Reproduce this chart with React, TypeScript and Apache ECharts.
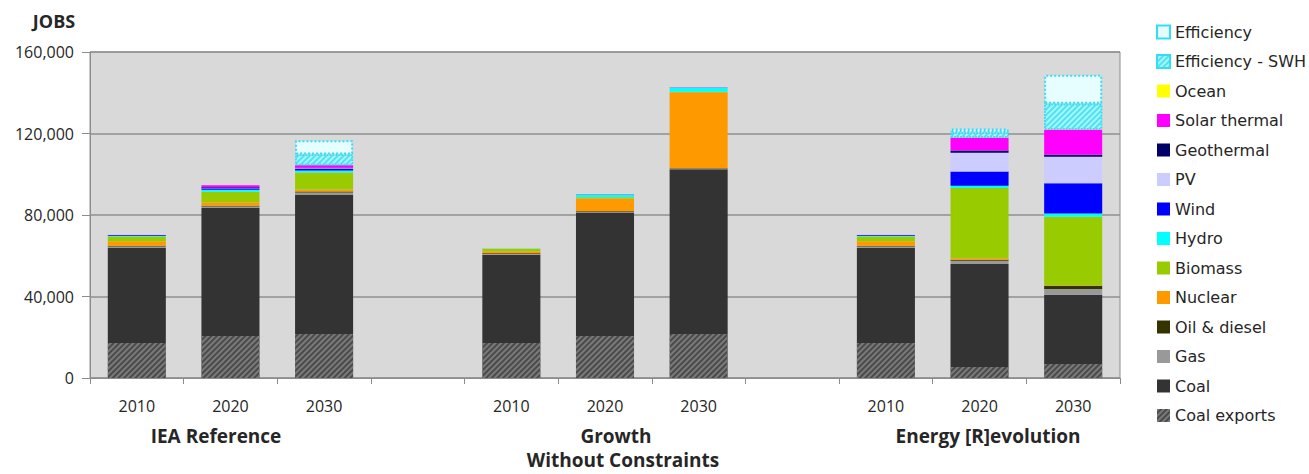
import React, { useEffect, useRef } from "react";
import * as echarts from "echarts";

const categories = ["2010", "2020", "2030", "", "2010", "2020", "2030", "", "2010", "2020", "2030"];
const yTicks = [0, 40000, 80000, 120000, 160000];

// values in jobs, bottom of stack first; null = gap column
const coalExports = [17200, 20600, 21600, null, 17200, 20600, 21600, null, 17200, 5400, 6900];
const coal = [46600, 62800, 68200, null, 43300, 60600, 80800, null, 46600, 50600, 34000];
const gas = [800, 800, 1200, null, 300, 300, 300, null, 800, 1600, 2800];
const oilDiesel = [300, 300, 500, null, 400, 300, 300, null, 300, 400, 1600];
const nuclear = [2200, 1600, 1000, null, 1000, 6300, 37200, null, 2200, 800, 200];
const biomass = [2300, 5300, 8300, null, 1200, 600, 300, null, 2300, 34400, 33600];
const hydro = [400, 1000, 1000, null, 200, 1200, 1800, null, 400, 1100, 1600];
const wind = [400, 700, 800, null, 0, 200, 200, null, 400, 7000, 14900];
const pv = [100, 200, 300, null, 0, 0, 0, null, 100, 9300, 13000];
const geothermal = [0, 300, 300, null, 0, 0, 0, null, 0, 1100, 1000];
const solarThermal = [0, 1000, 1200, null, 0, 0, 0, null, 0, 6200, 12200];
const ocean = [0, 0, 0, null, 0, 0, 0, null, 0, 100, 200];
const efficiencySWH = [0, 0, 5300, null, 0, 0, 0, null, 0, 2500, 12600];
const efficiency = [0, 0, 7000, null, 0, 0, 0, null, 0, 2000, 14200];

const groupLabels = [
  { text: "IEA Reference", x: 216, y: 436 },
  { text: "Growth", x: 616, y: 436 },
  { text: "Without Constraints", x: 623, y: 460 },
  { text: "Energy [R]evolution", x: 988, y: 436 },
];

const legendOrder = [
  "Efficiency",
  "Efficiency - SWH",
  "Ocean",
  "Solar thermal",
  "Geothermal",
  "PV",
  "Wind",
  "Hydro",
  "Biomass",
  "Nuclear",
  "Oil & diesel",
  "Gas",
  "Coal",
  "Coal exports",
];

const hatch = (color: string) => ({
  symbol: "rect",
  symbolSize: 1,
  color,
  dashArrayX: [1, 0],
  dashArrayY: [2, 2],
  rotation: -Math.PI / 4,
});

const seriesDefs: { name: string; data: (number | null)[]; itemStyle: any }[] = [
  { name: "Coal exports", data: coalExports, itemStyle: { color: "#4a4a4a", decal: hatch("#7a7a7a") } },
  { name: "Coal", data: coal, itemStyle: { color: "#333333" } },
  { name: "Gas", data: gas, itemStyle: { color: "#999999" } },
  { name: "Oil & diesel", data: oilDiesel, itemStyle: { color: "#333300" } },
  { name: "Nuclear", data: nuclear, itemStyle: { color: "#FF9900" } },
  { name: "Biomass", data: biomass, itemStyle: { color: "#99CC00" } },
  { name: "Hydro", data: hydro, itemStyle: { color: "#00FFFF" } },
  { name: "Wind", data: wind, itemStyle: { color: "#0000FF" } },
  { name: "PV", data: pv, itemStyle: { color: "#CCCCFF" } },
  { name: "Geothermal", data: geothermal, itemStyle: { color: "#000066" } },
  { name: "Solar thermal", data: solarThermal, itemStyle: { color: "#FF00FF" } },
  { name: "Ocean", data: ocean, itemStyle: { color: "#FFFF00" } },
  {
    name: "Efficiency - SWH",
    data: efficiencySWH,
    itemStyle: {
      color: "#A6F6FF",
      decal: hatch("#4FE3F0"),
      borderColor: "#33DDF5",
      borderWidth: 1.5,
      borderType: "dotted",
    },
  },
  {
    name: "Efficiency",
    data: efficiency,
    itemStyle: {
      color: "#E6FEFF",
      borderColor: "#33DDF5",
      borderWidth: 2,
      borderType: "dotted",
    },
  },
];

export default function App() {
  const ref = useRef<HTMLDivElement>(null);

  useEffect(() => {
    document.body.style.margin = "0";
    if (!ref.current) return;
    const chart = echarts.init(ref.current, undefined, { renderer: "svg" });
    const axisFont = "'Open Sans', sans-serif";
    chart.setOption({
      animation: false,
      backgroundColor: "#ffffff",
      grid: {
        left: 90,
        right: 189,
        top: 52,
        bottom: 96,
        show: true,
        backgroundColor: "#D9D9D9",
        borderColor: "#8c8c8c",
        borderWidth: 1,
      },
      legend: {
        orient: "vertical",
        left: 1156,
        top: 24,
        padding: 0,
        itemWidth: 13,
        itemHeight: 13,
        itemGap: 13.5,
        icon: "rect",
        selectedMode: false,
        data: legendOrder,
        textStyle: {
          fontFamily: "'DejaVu Sans', sans-serif",
          fontSize: 16,
          lineHeight: 16,
          color: "#262626",
        },
      },
      xAxis: {
        type: "category",
        data: categories,
        axisLine: { lineStyle: { color: "#8c8c8c", width: 1 } },
        axisTick: { show: true, length: 6, lineStyle: { color: "#8c8c8c" } },
        axisLabel: {
          fontFamily: axisFont,
          fontSize: 16,
          color: "#262626",
          margin: 20,
          interval: 0,
        },
      },
      yAxis: {
        type: "value",
        min: yTicks[0],
        max: yTicks[yTicks.length - 1],
        interval: yTicks[1] - yTicks[0],
        name: "JOBS",
        nameLocation: "end",
        nameGap: 22,
        nameTextStyle: {
          fontFamily: axisFont,
          fontSize: 18,
          fontWeight: "bold",
          color: "#262626",
          align: "center",
          padding: [0, 0, 0, -72],
        },
        axisLine: { show: true, lineStyle: { color: "#8c8c8c", width: 1 } },
        axisTick: { show: true, length: 8, lineStyle: { color: "#8c8c8c" } },
        splitLine: { lineStyle: { color: "#8f8f8f", width: 1.5 } },
        axisLabel: {
          fontFamily: axisFont,
          fontSize: 16,
          color: "#262626",
          margin: 16,
          formatter: (v: number) => v.toLocaleString("en-US"),
        },
      },
      series: seriesDefs.map((s) => ({
        name: s.name,
        type: "bar",
        stack: "total",
        barCategoryGap: "38%",
        data: s.data.map((v) => (v === null || v === 0 ? "-" : v)),
        itemStyle: s.itemStyle,
        emphasis: { disabled: true },
      })),
      graphic: groupLabels.map((g) => ({
        type: "text",
        x: g.x,
        y: g.y,
        style: {
          text: g.text,
          fontFamily: axisFont,
          fontSize: 19,
          fontWeight: "bold",
          fill: "#262626",
          textAlign: "center",
          textVerticalAlign: "middle",
        },
      })),
    });
    return () => chart.dispose();
  }, []);

  return <div ref={ref} style={{ width: 1309, height: 474 }} />;
}
